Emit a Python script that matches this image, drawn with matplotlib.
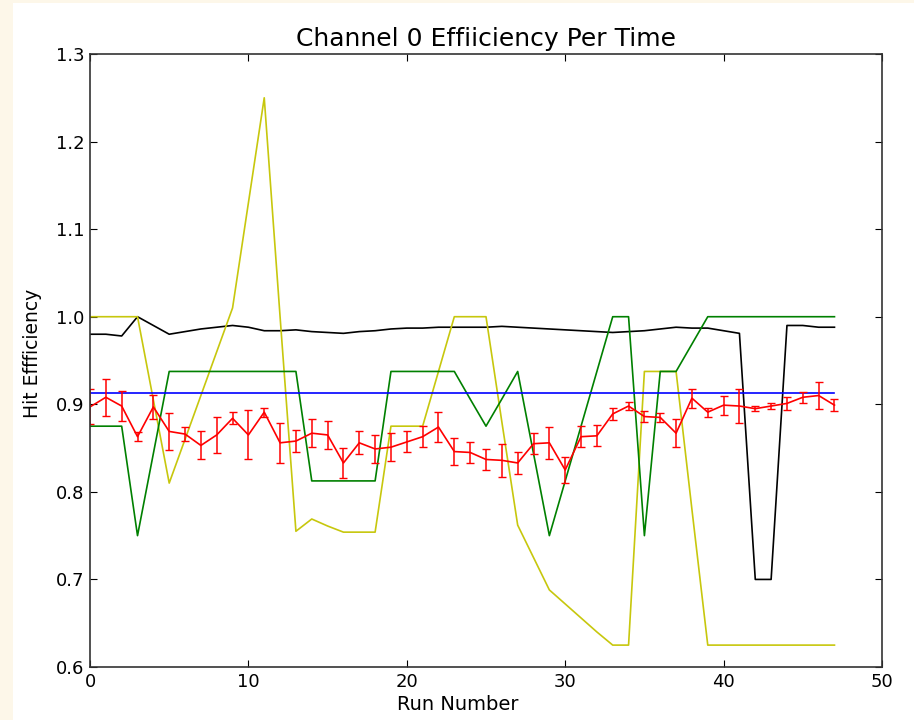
import numpy as np
import matplotlib
matplotlib.use("Agg")
import matplotlib.pyplot as plt
from matplotlib.patches import Rectangle

# run-by-run hit efficiency for channel 0
runs = np.arange(48)

eff_yellow = [1.0, 1.0, 1.0, 1.0, 0.905, 0.81, 0.86, 0.91, 0.96, 1.01,
              1.13, 1.25, 1.0, 0.755, 0.769, 0.761, 0.754, 0.754, 0.754, 0.875,
              0.875, 0.875, 0.9375, 1.0, 1.0, 1.0, 0.88, 0.762, 0.725, 0.688,
              0.672, 0.656, 0.64, 0.625, 0.625, 0.9375, 0.9375, 0.9375, 0.78, 0.625,
              0.625, 0.625, 0.625, 0.625, 0.625, 0.625, 0.625, 0.625]

eff_green = [0.875, 0.875, 0.875, 0.75, 0.84375, 0.9375, 0.9375, 0.9375, 0.9375, 0.9375,
             0.9375, 0.9375, 0.9375, 0.9375, 0.8125, 0.8125, 0.8125, 0.8125, 0.8125, 0.9375,
             0.9375, 0.9375, 0.9375, 0.9375, 0.906, 0.875, 0.906, 0.9375, 0.84375, 0.75,
             0.8125, 0.875, 0.9375, 1.0, 1.0, 0.75, 0.9375, 0.9375, 0.96875, 1.0,
             1.0, 1.0, 1.0, 1.0, 1.0, 1.0, 1.0, 1.0]

eff_black = [0.98, 0.98, 0.978, 1.0, 0.99, 0.98, 0.983, 0.986, 0.988, 0.99,
             0.988, 0.984, 0.984, 0.985, 0.983, 0.982, 0.981, 0.983, 0.984, 0.986,
             0.987, 0.987, 0.988, 0.988, 0.988, 0.988, 0.989, 0.988, 0.987, 0.986,
             0.985, 0.984, 0.983, 0.982, 0.983, 0.984, 0.986, 0.988, 0.987, 0.987,
             0.984, 0.981, 0.70, 0.70, 0.99, 0.99, 0.988, 0.988]

eff_mean = 0.913

eff_red = [0.897, 0.908, 0.898, 0.863, 0.897, 0.869, 0.866, 0.853, 0.865, 0.884,
           0.865, 0.891, 0.856, 0.858, 0.867, 0.865, 0.833, 0.856, 0.849, 0.851,
           0.857, 0.863, 0.874, 0.846, 0.845, 0.837, 0.836, 0.833, 0.855, 0.856,
           0.825, 0.863, 0.864, 0.889, 0.898, 0.886, 0.885, 0.867, 0.907, 0.891,
           0.899, 0.898, 0.895, 0.898, 0.901, 0.908, 0.910, 0.899]

err_red = [0.020, 0.021, 0.017, 0.005, 0.014, 0.021, 0.008, 0.016, 0.021, 0.007,
           0.028, 0.005, 0.023, 0.013, 0.016, 0.016, 0.017, 0.013, 0.016, 0.016,
           0.012, 0.012, 0.017, 0.015, 0.012, 0.012, 0.019, 0.013, 0.012, 0.018,
           0.015, 0.012, 0.012, 0.007, 0.005, 0.006, 0.005, 0.016, 0.011, 0.005,
           0.011, 0.019, 0.003, 0.003, 0.007, 0.006, 0.015, 0.007]

fig = plt.figure(figsize=(9.14, 7.2), dpi=100)
fig.patch.set_facecolor("white")
fig.patches.append(Rectangle((0, 0), 13 / 914, 1, transform=fig.transFigure,
                             facecolor="#fdf7e9", edgecolor="none", zorder=0))
fig.patches.append(Rectangle((0, 1 - 3 / 720), 1, 3 / 720, transform=fig.transFigure,
                             facecolor="#fdf7e9", edgecolor="none", zorder=0))

ax = fig.add_axes([90 / 914, 53 / 720, 792 / 914, 613 / 720])

ax.plot(runs, eff_black, color="k", lw=1.2)
ax.plot(runs, eff_yellow, color=(0.78, 0.78, 0.05), lw=1.2)
ax.plot(runs, eff_green, color="g", lw=1.2)
ax.plot([runs[0], runs[-1]], [eff_mean, eff_mean], color="b", lw=1.2)
ax.errorbar(runs, eff_red, yerr=err_red, fmt="-", color="r", ecolor="r",
            lw=1.2, elinewidth=1.1, capsize=3)

ax.set_xlim(0, 50)
ax.set_ylim(0.6, 1.3)
ax.set_xticks(np.arange(0, 51, 10))
ax.set_yticks(np.arange(0.6, 1.31, 0.1))
ax.set_yticklabels(["0.6", "0.7", "0.8", "0.9", "1.0", "1.1", "1.2", "1.3"])
ax.tick_params(direction="in", top=True, right=True, length=5, labelsize=13, pad=4)
for s in ax.spines.values():
    s.set_color("#333333")
    s.set_linewidth(1.2)

ax.set_title("Channel 0 Effiiciency Per Time", fontsize=18, pad=6)
ax.set_xlabel("Run Number", fontsize=14)
ax.set_ylabel("Hit Effficiency", fontsize=13.5)
ax.xaxis.set_label_coords(0.464, -0.045)
ax.yaxis.set_label_coords(-0.060, 0.511)

fig.savefig("out.png", dpi=100)
